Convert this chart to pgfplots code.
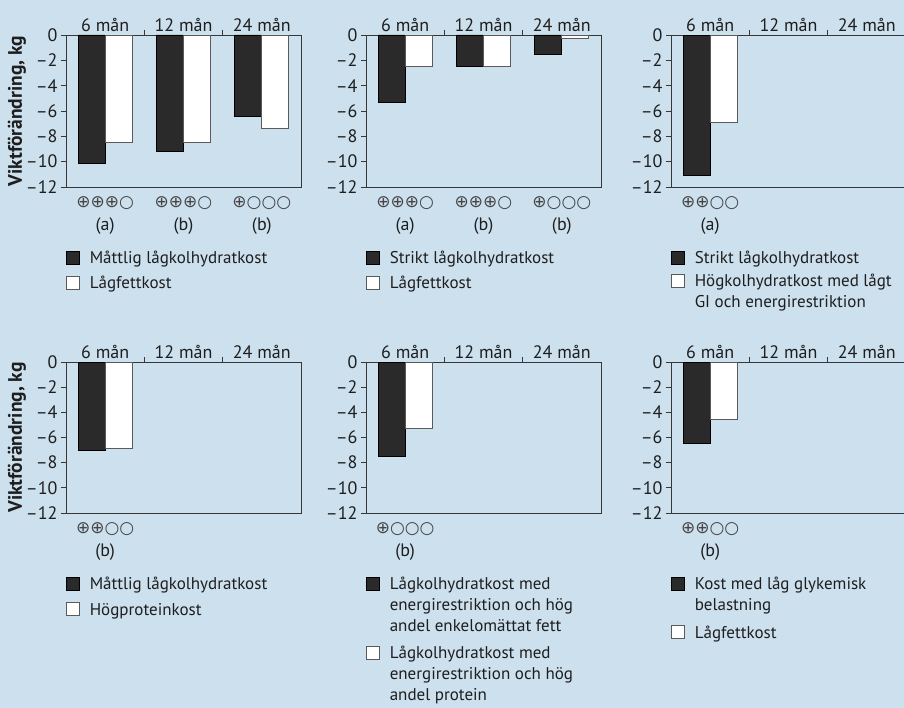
\documentclass[border=0pt]{standalone}
\usepackage{fontspec}
\setmainfont{PT Sans}
\newfontfamily\symfont{DejaVu Sans}
\usepackage{pgfplots}
\pgfplotsset{compat=1.18}
\definecolor{bg}{RGB}{204,224,238}
\definecolor{barblack}{RGB}{42,42,42}
\definecolor{axisgray}{RGB}{55,55,55}
\definecolor{symgray}{RGB}{70,70,70}
\definecolor{txt}{RGB}{30,30,30}
\definecolor{wborder}{RGB}{90,90,90}

\pgfplotsset{
  sqlegend/.style={legend image code/.code={%
      \draw[##1,line width=0.8pt] (0pt,-0.5pt) rectangle (13pt,12.5pt);}},
  panel/.style={
    scale only axis, width=235pt, height=152pt, clip=false,
    xmin=-0.5, xmax=2.5, ymin=-12, ymax=0,
    ybar=0pt, bar width=27pt,
    axis line style={axisgray,line width=0.9pt},
    tick style={axisgray,line width=0.9pt},
    tick align=outside,
    xtick={0.5,1.5}, xticklabels={}, xtick pos=right, xticklabel pos=right,
    extra x ticks={0,1,2},
    extra x tick labels={6 mån,12 mån,24 mån},
    extra x tick style={major tick length=0pt, xticklabel pos=right},
    ytick={-12,-10,-8,-6,-4,-2,0},
    yticklabels={–12,–10,–8,–6,–4,–2,0},
    ytick pos=left, major tick length=5pt,
    ticklabel style={font=\fontsize{18}{20}\selectfont, text=txt},
    ylabel style={font=\fontsize{19.5}{22}\selectfont\bfseries, text=txt,
      at={(axis description cs:-0.2085,0.5)}, anchor=center},
    legend style={at={(0,0)}, anchor=north west, yshift=-60pt,
      draw=none, fill=none, inner sep=0pt, outer sep=0pt,
      row sep=2.4pt, column sep=10pt,
      font=\fontsize{17}{24}\selectfont, text=txt,
      nodes={inner sep=0pt, outer sep=0pt}},
    legend cell align=left,
    legend style={cells={anchor=base west}},
  },
  blackbar/.style={fill=barblack, draw=black, line width=0.8pt, bar shift=-13.5pt, sqlegend},
  whitebar/.style={fill=white, draw=wborder, line width=0.8pt, bar shift=13.5pt, sqlegend},
}

\newcommand{\qual}[3]{%
  \node[font=\symfont\fontsize{17}{18}\selectfont, text=symgray, anchor=center, yshift=-16pt] at (axis cs:#1,-12) {#2};
  \node[font=\fontsize{18}{20}\selectfont, text=txt, anchor=center, yshift=-39pt] at (axis cs:#1,-12) {#3};
}
\newcommand{\cont}[1]{\addlegendimage{empty legend}\addlegendentry{\strut #1}}
% first line of a later entry: taller strut gives the gap between entries
\newcommand{\gap}[1]{\rule{0pt}{#1}\strut}

\begin{document}
\begin{tikzpicture}[x=1pt,y=1pt]
\useasboundingbox (0,0) rectangle (904,708);
\fill[bg] (0,0) rectangle (904,708);
\clip (0,0) rectangle (904,708);

% Panel 1
\begin{axis}[panel, at={(66pt,521pt)}, anchor=south west, ylabel={Viktförändring, kg}]
\addplot[blackbar] coordinates {(0,-10.1) (1,-9.2) (2,-6.4)};
\addlegendentry{\strut Måttlig lågkolhydratkost}
\addplot[whitebar] coordinates {(0,-8.5) (1,-8.5) (2,-7.4)};
\addlegendentry{\gap{20.8pt}Lågfettkost}
\qual{0}{⊕⊕⊕○}{(a)}
\qual{1}{⊕⊕⊕○}{(b)}
\qual{2}{⊕○○○}{(b)}
\end{axis}

% Panel 2
\begin{axis}[panel, at={(366pt,521pt)}, anchor=south west]
\addplot[blackbar] coordinates {(0,-5.3) (1,-2.45) (2,-1.5)};
\addlegendentry{\strut Strikt lågkolhydratkost}
\addplot[whitebar] coordinates {(0,-2.45) (1,-2.45) (2,-0.25)};
\addlegendentry{\gap{20.8pt}Lågfettkost}
\qual{0}{⊕⊕⊕○}{(a)}
\qual{1}{⊕⊕⊕○}{(b)}
\qual{2}{⊕○○○}{(b)}
\end{axis}

% Panel 3
\begin{axis}[panel, at={(671pt,521pt)}, anchor=south west]
\addplot[blackbar] coordinates {(0,-11.1)};
\addlegendentry{\strut Strikt lågkolhydratkost}
\addplot[whitebar] coordinates {(0,-6.9)};
\addlegendentry{\gap{18.8pt}Högkolhydratkost med lågt}
\cont{GI och energirestriktion}
\qual{0}{⊕⊕○○}{(a)}
\end{axis}

% Panel 4
\begin{axis}[panel, height=151pt, at={(66pt,195pt)}, anchor=south west, ylabel={Viktförändring, kg}]
\addplot[blackbar] coordinates {(0,-7.0)};
\addlegendentry{\strut Måttlig lågkolhydratkost}
\addplot[whitebar] coordinates {(0,-6.9)};
\addlegendentry{\gap{21.5pt}Högproteinkost}
\qual{0}{⊕⊕○○}{(b)}
\end{axis}

% Panel 5
\begin{axis}[panel, height=151pt, at={(366pt,195pt)}, anchor=south west]
\addplot[blackbar] coordinates {(0,-7.5)};
\addlegendentry{\strut Lågkolhydratkost med}
\cont{energirestriktion och hög}
\cont{andel enkelomättat fett}
\addplot[whitebar] coordinates {(0,-5.3)};
\addlegendentry{\gap{23.8pt}Lågkolhydratkost med}
\cont{energirestriktion och hög}
\cont{andel protein}
\qual{0}{⊕○○○}{(b)}
\end{axis}

% Panel 6
\begin{axis}[panel, height=151pt, at={(671pt,195pt)}, anchor=south west]
\addplot[blackbar] coordinates {(0,-6.5)};
\addlegendentry{\strut Kost med låg glykemisk}
\cont{belastning}
\addplot[whitebar] coordinates {(0,-4.6)};
\addlegendentry{\gap{23.8pt}Lågfettkost}
\qual{0}{⊕⊕○○}{(b)}
\end{axis}
\end{tikzpicture}
\end{document}
